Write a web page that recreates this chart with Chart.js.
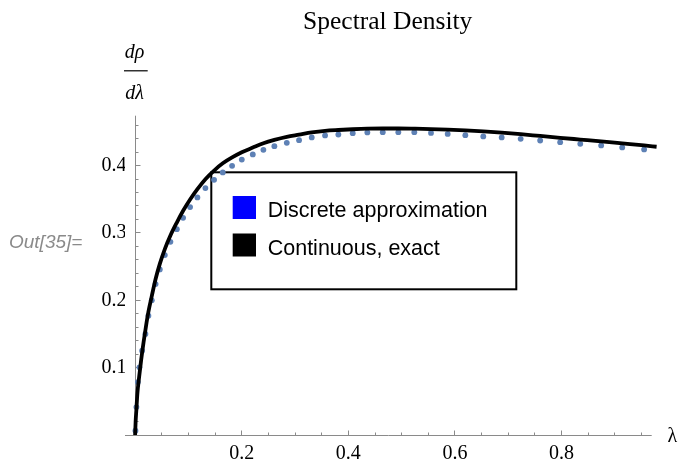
<!DOCTYPE html>
<html><head><meta charset="utf-8">
<script src="https://cdn.jsdelivr.net/npm/chart.js@4.4.0/dist/chart.umd.min.js"></script>
<style>html,body{margin:0;padding:0;background:#fff;} canvas{display:block;}</style>
</head><body>
<canvas id="c" width="681" height="463"></canvas>
<script>
const titleText = 'Spectral Density';
const promptText = 'Out[35]=';
const xAxisLabel = 'λ';
const yAxisNumerator = 'dρ';
const yAxisDenominator = 'dλ';
const legendLabels = ['Discrete approximation', 'Continuous, exact'];
const legendColors = ['#0000ff', '#000000'];
const xTickValues = [0.2, 0.4, 0.6, 0.8];
const xTickLabels = ['0.2', '0.4', '0.6', '0.8'];
const yTickValues = [0.1, 0.2, 0.3, 0.4];
const yTickLabels = ['0.1', '0.2', '0.3', '0.4'];

const dotX = [0.0006,0.0024,0.0051,0.0081,0.0131,0.0193,0.0249,0.0313,0.0384,0.0463,0.0557,0.0662,0.0782,0.0900,0.1031,0.1168,0.1318,0.1481,0.1644,0.1819,0.2001,0.2207,0.2406,0.2612,0.2845,0.3075,0.3313,0.3563,0.3812,0.4082,0.4356,0.4645,0.4937,0.5237,0.5550,0.5863,0.6194,0.6531,0.6876,0.7232,0.7598,0.7973,0.8350,0.8742,0.9137,0.9548];
const dotY = [0.0064,0.0415,0.0786,0.1004,0.1251,0.1499,0.1770,0.1999,0.2240,0.2458,0.2671,0.2868,0.3056,0.3224,0.3383,0.3527,0.3665,0.3788,0.3898,0.3996,0.4088,0.4165,0.4233,0.4288,0.4337,0.4377,0.4417,0.4447,0.4461,0.4481,0.4491,0.4496,0.4496,0.4496,0.4485,0.4469,0.4451,0.4433,0.4417,0.4396,0.4372,0.4347,0.4322,0.4298,0.4269,0.4239];

const curveX = [0,0.0009,0.0023,0.0043,0.0075,0.0113,0.0159,0.0216,0.0249,0.0313,0.0384,0.0463,0.0557,0.0662,0.0782,0.0900,0.1031,0.1168,0.1318,0.1481,0.1644,0.1819,0.2001,0.2207,0.2406,0.2612,0.2845,0.3075,0.3313,0.3563,0.3812,0.4082,0.4356,0.4645,0.4937,0.5237,0.5550,0.5863,0.6194,0.6531,0.6876,0.7232,0.7598,0.7973,0.8350,0.8742,0.9137,0.9548,0.9782];
const curveY = [0,0.0193,0.0371,0.0623,0.0861,0.1113,0.1380,0.1677,0.1829,0.2065,0.2315,0.2540,0.2760,0.2961,0.3154,0.3328,0.3496,0.3650,0.3798,0.3926,0.4033,0.4120,0.4197,0.4267,0.4331,0.4381,0.4426,0.4458,0.4491,0.4515,0.4528,0.4539,0.4547,0.4550,0.4550,0.4547,0.4542,0.4533,0.4521,0.4506,0.4488,0.4466,0.4439,0.4412,0.4386,0.4359,0.4329,0.4298,0.4279];

const dotData = dotX.map((x, i) => ({x: x, y: dotY[i]}));
const curveData = curveX.map((x, i) => ({x: x, y: curveY[i]}));

const SERIF = '"Liberation Serif", "Times New Roman", serif';
const SANS = '"Liberation Sans", Arial, Helvetica, sans-serif';

const deco = {
  id: 'deco',
  beforeDatasetsDraw(chart) {
    const ctx = chart.ctx, xs = chart.scales.x, ys = chart.scales.y;
    const x0 = Math.floor(xs.getPixelForValue(0)) + 0.5;
    const y0 = Math.floor(ys.getPixelForValue(0)) + 0.5;
    ctx.save();
    ctx.strokeStyle = '#8a8a8a';
    ctx.lineWidth = 1;
    ctx.beginPath();
    ctx.moveTo(xs.left, y0); ctx.lineTo(xs.right, y0);
    ctx.moveTo(x0, ys.bottom); ctx.lineTo(x0, ys.top);
    for (let k = 1; k * 0.05 <= xs.max + 1e-9; k++) {
      const v = k * 0.05;
      const major = (k % 4 === 0);
      const px = Math.floor(xs.getPixelForValue(v)) + 0.5;
      ctx.moveTo(px, y0); ctx.lineTo(px, y0 - (major ? 5 : 3));
    }
    for (let k = 1; k * 0.02 <= ys.max + 1e-9; k++) {
      const v = k * 0.02;
      const major = (k % 5 === 0);
      const py = Math.floor(ys.getPixelForValue(v)) + 0.5;
      ctx.moveTo(x0, py); ctx.lineTo(x0 + (major ? 5 : 3), py);
    }
    ctx.stroke();

    ctx.strokeStyle = '#000';
    ctx.lineWidth = 2;
    ctx.strokeRect(211.3, 172.3, 305, 117);
    ctx.fillStyle = legendColors[0];
    ctx.fillRect(232.7, 196, 23.3, 23);
    ctx.fillStyle = legendColors[1];
    ctx.fillRect(232.7, 233.5, 23.3, 23);
    ctx.fillStyle = '#000';
    ctx.font = '21.5px ' + SANS;
    ctx.textAlign = 'left';
    ctx.textBaseline = 'alphabetic';
    ctx.fillText(legendLabels[0], 267.7, 217.3);
    ctx.fillText(legendLabels[1], 267.7, 254.8);
    ctx.restore();
  },
  afterDraw(chart) {
    const ctx = chart.ctx;
    ctx.save();
    ctx.fillStyle = '#000';
    ctx.textBaseline = 'alphabetic';
    ctx.textAlign = 'center';
    ctx.font = '25.5px ' + SERIF;
    ctx.fillText(titleText, 387.7, 29.3);
    ctx.font = 'italic 20px ' + SERIF;
    ctx.fillText(yAxisNumerator, 134.5, 57.5);
    ctx.fillText(yAxisDenominator, 134.5, 99);
    ctx.fillRect(124, 70.2, 23.7, 1.2);
    ctx.textAlign = 'left';
    ctx.font = '20px ' + SERIF;
    ctx.fillText(xAxisLabel, 667.5, 442);
    ctx.fillStyle = '#8a8a8a';
    ctx.font = 'italic 19px ' + SANS;
    ctx.fillText(promptText, 9, 247.5);
    ctx.restore();
  }
};

new Chart(document.getElementById('c'), {
  type: 'scatter',
  data: {
    datasets: [
      {
        label: legendLabels[1],
        data: curveData,
        showLine: true,
        borderColor: '#000',
        borderWidth: 3.8,
        pointRadius: 0,
        cubicInterpolationMode: 'monotone',
        fill: false,
        clip: false,
        order: 0
      },
      {
        label: legendLabels[0],
        data: dotData,
        showLine: false,
        pointRadius: 2.9,
        pointBorderWidth: 0,
        pointBackgroundColor: '#5e81b5',
        backgroundColor: '#5e81b5',
        borderColor: '#5e81b5',
        clip: false,
        order: 1
      }
    ]
  },
  options: {
    responsive: false,
    devicePixelRatio: 1,
    animation: false,
    events: [],
    layout: { padding: { top: 115.7, right: 29.3, bottom: 0, left: 0 } },
    plugins: { legend: { display: false }, title: { display: false }, tooltip: { enabled: false } },
    scales: {
      x: {
        type: 'linear',
        min: -0.019,
        max: 0.969,
        grid: { display: false, drawTicks: false },
        border: { display: false },
        afterBuildTicks(scale) { scale.ticks = xTickValues.map(v => ({ value: v })); },
        afterFit(scale) { scale.height = 28; },
        ticks: {
          autoSkip: false,
          maxRotation: 0,
          padding: 7,
          color: '#000',
          font: { family: SERIF, size: 20 },
          callback: (v) => { const i = xTickValues.indexOf(v); return i >= 0 ? xTickLabels[i] : ''; }
        }
      },
      y: {
        type: 'linear',
        min: 0,
        max: 0.474,
        grid: { display: false, drawTicks: false },
        border: { display: false },
        afterBuildTicks(scale) { scale.ticks = yTickValues.map(v => ({ value: v })); },
        afterFit(scale) { scale.width = 125; },
        ticks: {
          autoSkip: false,
          padding: -1.5,
          color: '#000',
          font: { family: SERIF, size: 20 },
          callback: (v) => { const i = yTickValues.indexOf(v); return i >= 0 ? yTickLabels[i] : ''; }
        }
      }
    }
  },
  plugins: [deco]
});
</script>
</body></html>
